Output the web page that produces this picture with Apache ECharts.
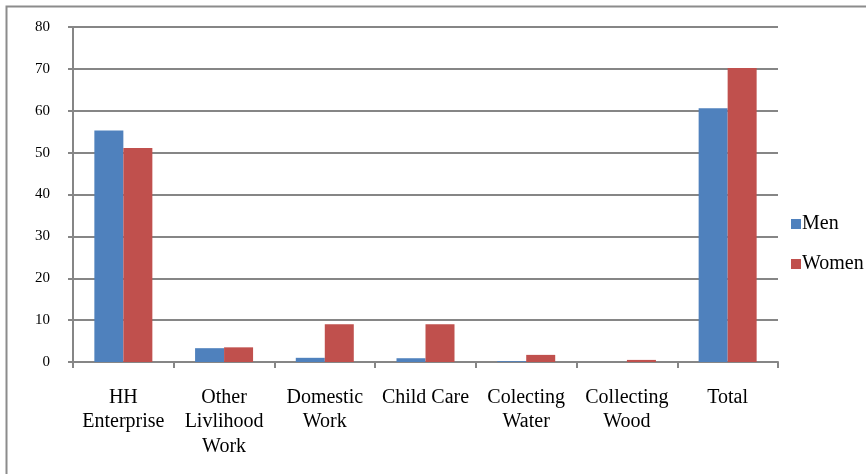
<!DOCTYPE html>
<html>
<head>
<meta charset="utf-8">
<script src="https://cdn.jsdelivr.net/npm/echarts@6/dist/echarts.min.js"></script>
<style>html,body{margin:0;padding:0;background:#fff;}#c{width:866px;height:474px;}</style>
</head>
<body>
<div id="c"></div>
<script>
const categories = ['HH\nEnterprise', 'Other\nLivlihood\nWork', 'Domestic\nWork', 'Child Care', 'Colecting\nWater', 'Collecting\nWood', 'Total'];
const men = [55.3, 3.3, 1.0, 0.9, 0.2, 0, 60.6];
const women = [51.1, 3.5, 9.0, 9.0, 1.7, 0.5, 70.2];
const yTicks = [0, 10, 20, 30, 40, 50, 60, 70, 80];

const FONT = '"Liberation Serif", "Times New Roman", serif';
const chart = echarts.init(document.getElementById('c'), null, {renderer: 'canvas'});
chart.setOption({
  animation: false,
  backgroundColor: '#fff',
  graphic: [{
    type: 'rect', left: 4, top: 4, shape: {x: 0, y: 0, width: 900, height: 500},
    style: {fill: 'none', stroke: '#8c8c8c', lineWidth: 2}, silent: true
  }],
  grid: {left: 73, right: 88, top: 27, bottom: 112, containLabel: false},
  legend: {
    orient: 'vertical', left: 786, top: 208,
    itemWidth: 10, itemHeight: 10, itemGap: 18,
    icon: 'rect',
    textStyle: {fontFamily: FONT, fontSize: 20, color: '#000', lineHeight: 22, padding: [0, 0, 0, -4]},
    data: ['Men', 'Women']
  },
  xAxis: {
    type: 'category', data: categories,
    axisLine: {show: true, lineStyle: {color: '#868686', width: 2}},
    axisTick: {show: true, length: 6, lineStyle: {color: '#868686', width: 2}},
    axisLabel: {interval: 0, margin: 23, fontFamily: FONT, fontSize: 20, color: '#000', lineHeight: 24.5}
  },
  yAxis: {
    type: 'value', min: yTicks[0], max: yTicks[yTicks.length - 1], interval: 10,
    axisLine: {show: true, lineStyle: {color: '#868686', width: 2}},
    axisTick: {show: true, length: 5, lineStyle: {color: '#868686', width: 2}},
    axisLabel: {margin: 23, fontFamily: FONT, fontSize: 15, color: '#000'},
    splitLine: {show: true, lineStyle: {color: '#868686', width: 2}}
  },
  series: [
    {name: 'Men', type: 'bar', data: men, barWidth: 29, barGap: '0%',
     itemStyle: {color: '#4F81BD'}},
    {name: 'Women', type: 'bar', data: women, barWidth: 29, barGap: '0%',
     itemStyle: {color: '#C0504D'}}
  ]
});
</script>
</body>
</html>
